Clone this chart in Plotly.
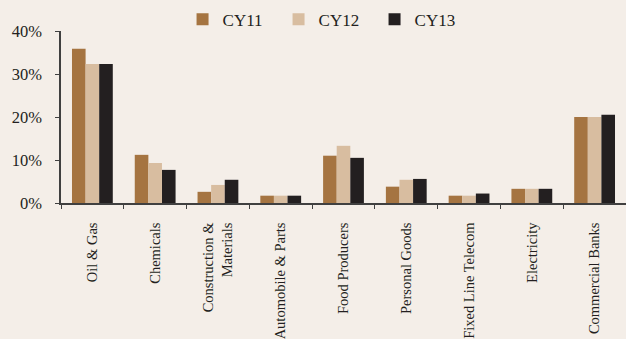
import plotly.graph_objects as go

# Sector weights by calendar year
sectors = ["Oil & Gas", "Chemicals", "Construction &<br>Materials", "Automobile & Parts",
           "Food Producers", "Personal Goods", "Fixed Line Telecom", "Electricity",
           "Commercial Banks"]
cy11 = [0.359, 0.112, 0.026, 0.017, 0.110, 0.038, 0.017, 0.033, 0.200]
cy12 = [0.323, 0.093, 0.042, 0.017, 0.133, 0.054, 0.017, 0.033, 0.200]
cy13 = [0.323, 0.077, 0.054, 0.017, 0.105, 0.056, 0.022, 0.033, 0.205]
series_names = ["CY11", "CY12", "CY13"]
series_colors = ["#A57441", "#D8BDA0", "#231F20"]

bg = "#F4EEE8"
font_family = "Liberation Serif, Times New Roman, serif"

fig = go.Figure()
for name, vals, color in zip(series_names, [cy11, cy12, cy13], series_colors):
    fig.add_trace(go.Bar(name=name, x=sectors, y=vals, marker_color=color,
                         marker_line_width=0))

fig.update_layout(
    width=626, height=339,
    paper_bgcolor=bg, plot_bgcolor=bg,
    margin=dict(l=61, r=0, t=31, b=136, autoexpand=False),
    barmode="group", bargap=0.35, bargroupgap=0,
    font=dict(family=font_family, color="#231F20"),
    legend=dict(orientation="h", x=0.47, xanchor="center",
                y=0.995, yanchor="top", yref="container",
                font=dict(size=17, family=font_family),
                entrywidth=51, entrywidthmode="pixels",
                bgcolor="rgba(0,0,0,0)", traceorder="normal"),
    showlegend=True,
)

fig.update_xaxes(
    type="category", tickangle=-90, tickson="boundaries",
    ticks="outside", ticklen=4, tickcolor="#404040",
    showline=True, linecolor="#404040", linewidth=1.5,
    tickfont=dict(size=14.5, family=font_family, color="#231F20"),
    ticklabelstandoff=12, showgrid=False,
)
fig.update_yaxes(
    range=[0, 0.4], dtick=0.1, tickformat=".0%",
    ticks="outside", ticklen=4, tickcolor="#404040",
    showline=True, linecolor="#404040", linewidth=1.5,
    tickfont=dict(size=16.5, family=font_family, color="#231F20"),
    ticklabelstandoff=10, showgrid=False, zeroline=False,
)

fig.write_html("out.html")
